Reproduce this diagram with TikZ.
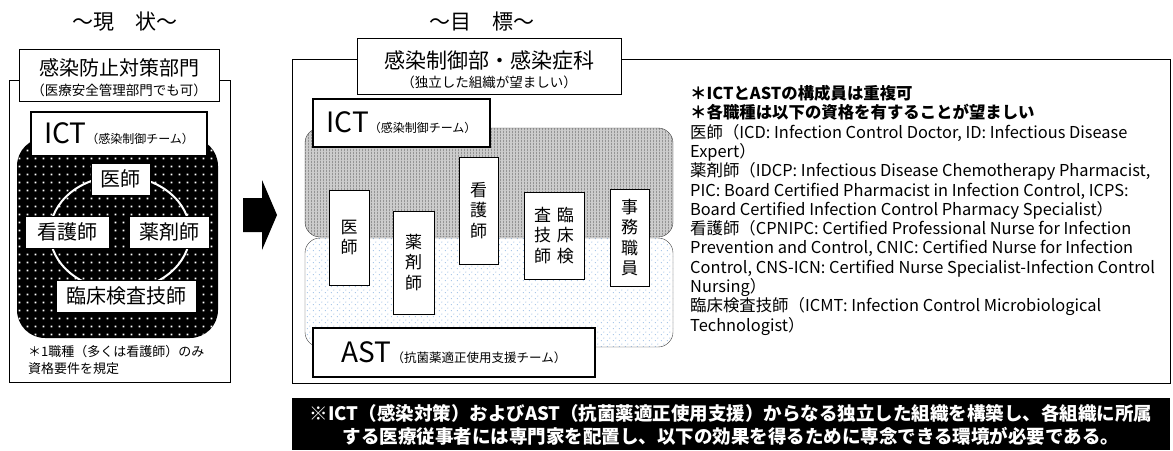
\documentclass[tikz,border=0pt]{standalone}
\usepackage{fontspec}
\setmainfont{Noto Sans CJK JP}
\usetikzlibrary{patterns.meta}

\newcommand{\fsz}[2]{\fontsize{#1}{#2}\selectfont}
\definecolor{dotblue}{RGB}{140,180,225}

% fill patterns
\tikzdeclarepattern{
  name=whitedots, type=uncolored,
  bounding box={(0pt,0pt) and (8pt,8pt)},
  tile size={(8pt,8pt)},
  code={\pgfpathrectangle{\pgfpoint{3pt}{3pt}}{\pgfpoint{2pt}{2pt}}\pgfusepath{fill}}
}
\tikzdeclarepattern{
  name=bluedots, type=uncolored,
  bounding box={(0pt,0pt) and (6pt,6pt)},
  tile size={(6pt,6pt)},
  code={\pgfpathcircle{\pgfpoint{1.5pt}{1.5pt}}{0.6pt}
        \pgfpathcircle{\pgfpoint{4.5pt}{4.5pt}}{0.6pt}\pgfusepath{fill}}
}
\tikzdeclarepattern{
  name=vstripes, type=uncolored,
  bounding box={(0pt,0pt) and (2.5pt,2.5pt)},
  tile size={(2.5pt,2.5pt)},
  code={\pgfpathrectangle{\pgfpoint{0pt}{0pt}}{\pgfpoint{0.9pt}{2.5pt}}\pgfusepath{fill}}
}

\tikzset{
  headbox/.style={draw, fill=white, line width=0.8pt, inner sep=0pt},
  teambox/.style={draw, fill=white, line width=2.2pt, inner sep=0pt},
  rolebox/.style={draw, fill=white, line width=0.8pt, inner sep=0pt, font=\fsz{20}{22}},
  vrolebox/.style={draw, fill=white, line width=0.8pt, inner sep=0pt, align=center, font=\fsz{17}{20.5}},
  region/.style={rounded corners=15pt},
}

\begin{document}
\begin{tikzpicture}[x=1pt,y=-1pt]
  \useasboundingbox (0,0) rectangle (1173,450);

  % Current state
  \node[font=\fsz{21}{22}] (nowtitle) at (125,22) {～現　状～};
  \draw[line width=0.8pt] (9,80) rectangle (230,382);
  \node[headbox, minimum width=200pt, minimum height=52pt] (nowdept) at (119,75) {};
  \node[font=\fsz{20}{22}] (nowdeptA) at (119,68) {感染防止対策部門};
  \node[font=\fsz{13.5}{15}] (nowdeptB) at (119,90) {（医療安全管理部門でも可）};

  % Black dotted team area
  \fill[rounded corners=28pt] (17,138) rectangle (218,338);
  \fill[rounded corners=28pt, pattern=whitedots, pattern color=white] (17,138) rectangle (218,338);
  \draw[white, line width=2pt] (120,233) ellipse [x radius=70, y radius=57];

  \node[teambox, minimum width=176pt, minimum height=44pt] (nowict) at (119,134)
    {{\fsz{28}{28}ICT}{\fsz{12}{12}（感染制御チーム）}};
  \node[rolebox, minimum width=59pt, minimum height=32pt] (ishiL) at (120.5,179) {医師};
  \node[rolebox, minimum width=84pt, minimum height=32pt] (kangoL) at (67,232) {看護師};
  \node[rolebox, minimum width=80pt, minimum height=32pt] (yakuL) at (169,232) {薬剤師};
  \node[rolebox, minimum width=140pt, minimum height=32pt] (rinshoL) at (126,296) {臨床検査技師};
  \node[anchor=north west, align=left, inner sep=0pt, font=\fsz{13}{17}] (nownote) at (28,345)
    {＊1職種（多くは看護師）のみ\\資格要件を規定};

  % Arrow
  \fill (243,198) -- (262,198) -- (262,180) -- (277,215) -- (262,250) -- (262,232) -- (243,232) -- cycle;

  % Goal
  \node[font=\fsz{21}{22}] (goaltitle) at (482,22) {～目　標～};
  \draw[line width=0.8pt] (292,59) rectangle (1170,383);
  \node[headbox, minimum width=264pt, minimum height=56pt] (goaldept) at (489,66) {};
  \node[font=\fsz{21}{22}] (goaldeptA) at (489,60) {感染制御部・感染症科};
  \node[font=\fsz{13.5}{15}] (goaldeptB) at (489,82) {（独立した組織が望ましい）};

  % ICT area
  \fill[region, black!20] (305,128) rectangle (673,237);
  \fill[region, pattern=vstripes, pattern color=black!42] (305,128) rectangle (673,237);
  \draw[region, black!75] (305,128) rectangle (673,237);
  % AST area
  \fill[region, white] (305,238) rectangle (673,347);
  \fill[region, pattern=bluedots, pattern color=dotblue] (305,238) rectangle (673,347);
  \draw[region, black!75] (305,238) rectangle (673,347);

  \node[teambox, minimum width=177pt, minimum height=48pt] (goalict) at (401.5,123)
    {{\fsz{28}{28}ICT}{\fsz{12}{12}（感染制御チーム）}};
  \node[teambox, minimum width=282pt, minimum height=49pt] (goalast) at (454,352.5)
    {{\fsz{28}{28}AST}{\fsz{12.5}{12}（抗菌薬適正使用支援チーム）}};

  \node[vrolebox, minimum width=40pt, minimum height=95pt] (ishiR) at (349,237.5) {医\\師};
  \node[vrolebox, minimum width=41pt, minimum height=103pt] (yakuR) at (413.5,262.5) {薬\\剤\\師};
  \node[vrolebox, minimum width=39pt, minimum height=107pt] (kangoR) at (478.5,210.5) {看\\護\\師};
  \node[vrolebox, minimum width=60pt, minimum height=87pt] (rinshoR) at (554,235.5)
    {査\hspace{6pt}臨\\技\hspace{6pt}床\\師\hspace{6pt}検};
  \node[vrolebox, minimum width=39pt, minimum height=97pt] (jimuR) at (629.5,237.5) {事\\務\\職\\員};

  % Qualifications
  \node[anchor=north west, align=left, inner sep=0pt, font=\fsz{16.4}{19.3}] (goalnote) at (690,85)
    {{\bfseries ＊ICTとASTの構成員は重複可}\\
     {\bfseries ＊各職種は以下の資格を有することが望ましい}\\
     医師（ICD: Infection Control Doctor, ID: Infectious Disease\\
     Expert）\\
     薬剤師（IDCP: Infectious Disease Chemotherapy Pharmacist,\\
     PIC: Board Certified Pharmacist in Infection Control, ICPS:\\
     Board Certified Infection Control Pharmacy Specialist）\\
     看護師（CPNIPC: Certified Professional Nurse for Infection\\
     Prevention and Control, CNIC: Certified Nurse for Infection\\
     Control, CNS-ICN: Certified Nurse Specialist-Infection Control\\
     Nursing）\\
     臨床検査技師（ICMT: Infection Control Microbiological\\
     Technologist）};

  % Summary
  \fill (292,398) rectangle (1170,450);
  \node[white, align=center, font=\bfseries\fsz{18.5}{22.5}] (summary) at (731,425)
    {※ICT（感染対策）およびAST（抗菌薬適正使用支援）からなる独立した組織を構築し、各組織に所属\\
     する医療従事者には専門家を配置し、以下の効果を得るために専念できる環境が必要である。};
\end{tikzpicture}
\end{document}
